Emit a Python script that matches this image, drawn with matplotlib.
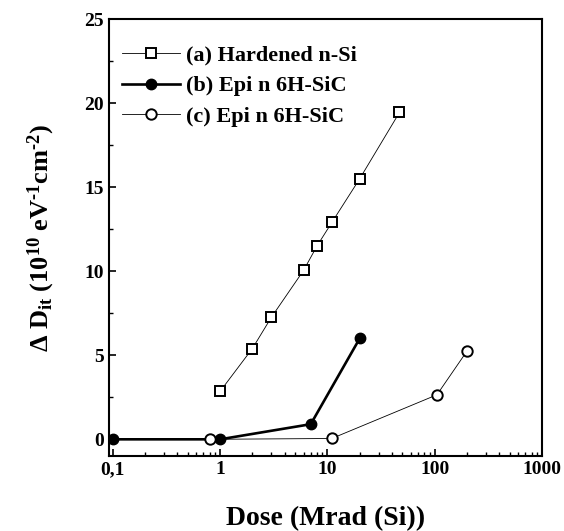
import numpy as np
import matplotlib.pyplot as plt
from matplotlib.ticker import FixedLocator, MultipleLocator, LogLocator, NullFormatter

plt.rcParams['font.family'] = 'Liberation Serif'
plt.rcParams['font.weight'] = 'bold'
plt.rcParams['mathtext.fontset'] = 'custom'
plt.rcParams['mathtext.rm'] = 'Liberation Serif:bold'
plt.rcParams['mathtext.it'] = 'Liberation Serif:bold'
plt.rcParams['mathtext.bf'] = 'Liberation Serif:bold'

# data
dose_a = [1, 2, 3, 6, 8, 11, 20, 47]
dit_a = [2.85, 5.4, 7.25, 10.05, 11.5, 12.9, 15.5, 19.45]
dose_b = [0.1, 1, 7, 20]
dit_b = [0.0, 0.0, 0.9, 6.0]
dose_c = [0.8, 11, 105, 200]
dit_c = [0.0, 0.05, 2.65, 5.25]

labels = ['(a) Hardened n-Si', '(b) Epi n 6H-SiC', '(c) Epi n 6H-SiC']
xticks = [0.1, 1, 10, 100, 1000]
xticklabels = ['0,1', '1', '10', '100', '1000']

fig = plt.figure(figsize=(5.64, 5.31), dpi=100)
ax = fig.add_axes([0.193, 0.141, 0.768, 0.823])

ax.plot(dose_a, dit_a, '-', color='black', lw=0.6, marker='s', ms=6.5,
        mfc='white', mec='black', mew=1.4, label=labels[0])
ax.plot(dose_b, dit_b, '-', color='black', lw=1.9, marker='o', ms=7.5,
        mfc='black', mec='black', label=labels[1])
ax.plot(dose_c, dit_c, '-', color='black', lw=0.6, marker='o', ms=7.5,
        mfc='white', mec='black', mew=1.4, label=labels[2])

ax.set_xscale('log')
ax.set_xlim(0.092, 1000)
ax.set_ylim(-1, 25)
ax.set_xticks(xticks)
ax.set_xticklabels(xticklabels)
ax.xaxis.set_minor_locator(LogLocator(base=10, subs=np.arange(2, 10)))
ax.xaxis.set_minor_formatter(NullFormatter())
ax.yaxis.set_major_locator(FixedLocator([0, 5, 10, 15, 20, 25]))
ax.yaxis.set_minor_locator(MultipleLocator(2.5))

ax.tick_params(which='both', direction='in', labelsize=14)
ax.tick_params(which='major', length=5, width=1.2)
ax.tick_params(which='minor', length=3, width=1)
for s in ax.spines.values():
    s.set_linewidth(1.5)

ax.set_xlabel('Dose (Mrad (Si))', fontsize=20, fontweight='bold', labelpad=20)
ax.set_ylabel(r'$\Delta$ D$_{\rm it}$ (10$^{\rm 10}$ eV$^{\text{-1}}$cm$^{\text{-2}}$)',
              fontsize=19, fontweight='bold', labelpad=20)

ax.legend(loc='upper left', bbox_to_anchor=(0.03, 0.94), frameon=False,
          fontsize=16, handlelength=2.6, borderaxespad=0, borderpad=0,
          labelspacing=0.45, handletextpad=0.3)

plt.savefig('out.png', dpi=100)
